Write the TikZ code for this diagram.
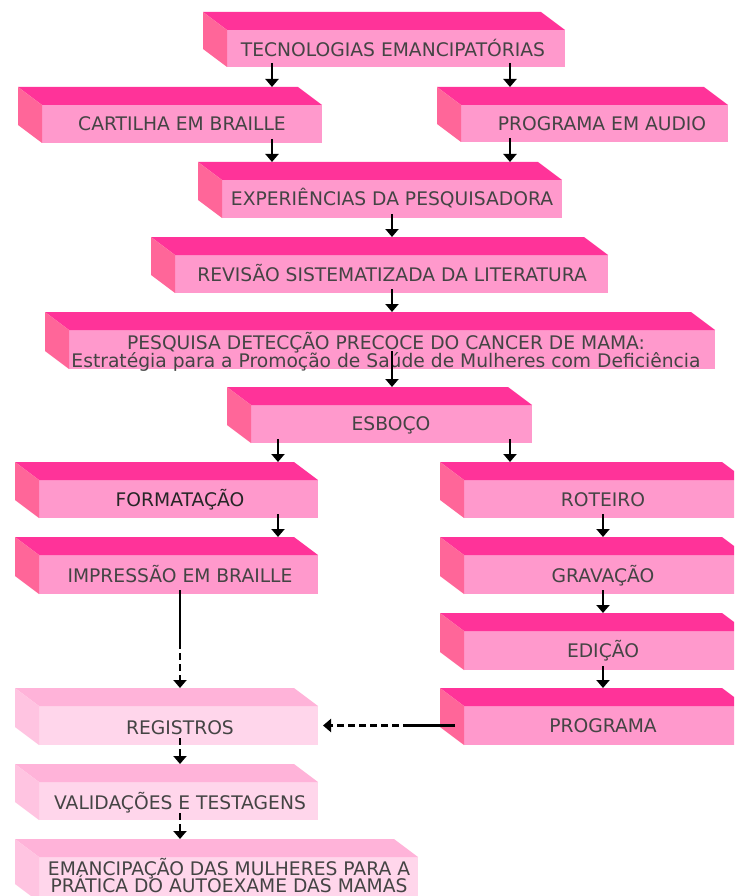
\documentclass[tikz,border=0pt]{standalone}
\usepackage{fontspec}
\setmainfont{DejaVu Sans}
\usetikzlibrary{calc,arrows.meta}
\definecolor{dtop}{HTML}{FF3399}
\definecolor{dside}{HTML}{FF6699}
\definecolor{dfront}{HTML}{FF99CC}
\definecolor{ltop}{HTML}{FFB3D9}
\definecolor{lside}{HTML}{FFC4E1}
\definecolor{lfront}{HTML}{FFD6EB}
\definecolor{txtc}{HTML}{444444}
\tikzset{
  face/.style={draw=none, inner sep=0pt, outer sep=0pt},
  lbl/.style={font=\fontsize{18.7}{18}\selectfont, text=txtc, inner sep=0pt, text height=13.6pt, text depth=0pt},
  lbltwo/.style={text=txtc, inner sep=0pt, align=center},
  arr/.style={line width=2.8pt, -{Triangle[width=13pt,length=8pt]}},
  solidline/.style={line width=2.8pt},
  dsh/.style={dash pattern=on 7pt off 4pt},
}
% #1 name, #2 front left x, #3 front top y, #4 front right x, #5 bottom y, #6 palette (d / l)
\newcommand\caixa[6]{%
  \node[face, fill=#6front, minimum width={#4-#2}, minimum height={#5-#3}] (#1) at ({(#2+#4)/2},{(#3+#5)/2}) {};
  \fill[#6top] (#1.north west) -- ++(-24,-18) -- ($(#1.north east)+(-24,-18)$) -- (#1.north east) -- cycle;
  \fill[#6side] (#1.north west) -- ++(-24,-18) -- ($(#1.south west)+(-24,-18)$) -- (#1.south west) -- cycle;
}
\newcommand\seta[4][]{\draw[arr,#1] ($(#2.south -| #4)+(0,-4)$) -- ($(#3.north -| #4)+(0,-18)$);}
\begin{document}
\begin{tikzpicture}[x=1pt,y=-1pt]
\useasboundingbox (0,0) rectangle (734,896);
\clip (0,0) rectangle (734,896);
\fill[white] (0,0) rectangle (734,896);

\caixa{tec}{227}{30}{565}{67}{d}
\caixa{cart}{42}{105}{322}{143}{d}
\caixa{audio}{461}{105}{728}{142}{d}
\caixa{exp}{222}{180}{562}{218}{d}
\caixa{rev}{175}{255}{608}{293}{d}
\caixa{pesq}{69}{330}{715}{369}{d}
\caixa{esb}{251}{405}{532}{443}{d}
\caixa{form}{39}{480}{318}{518}{d}
\caixa{rot}{464}{480}{746}{518}{d}
\caixa{imp}{39}{555}{318}{594}{d}
\caixa{grav}{464}{555}{746}{594}{d}
\caixa{edi}{464}{631}{746}{670}{d}
\caixa{prog}{464}{706}{746}{745}{d}
\caixa{reg}{39}{706}{318}{745}{l}
\caixa{val}{39}{782}{318}{820}{l}
\caixa{eman}{39}{857}{418}{902}{l}

\node[lbl] (tect) at (393,50) {TECNOLOGIAS EMANCIPATÓRIAS};
\node[lbl] (cartt) at (182,124) {CARTILHA EM BRAILLE};
\node[lbl] (audiot) at (602,124) {PROGRAMA EM AUDIO};
\node[lbl] (expt) at (392,199) {EXPERIÊNCIAS DA PESQUISADORA};
\node[lbl] (revt) at (392,275) {REVISÃO SISTEMATIZADA DA LITERATURA};
\node[lbltwo, font={\fontsize{18.7}{18}\selectfont\lineskiplimit=-50pt}] (pesqt) at (386,352) {PESQUISA DETECÇÃO PRECOCE DO CANCER DE MAMA:\\Estratégia para a Promoção de Saúde de Mulheres com Deficiência};
\node[lbl] (esbt) at (391,424) {ESBOÇO};
\node[lbl, text=black!85] (formt) at (180,500) {FORMATAÇÃO};
\node[lbl] (rott) at (603,500) {ROTEIRO};
\node[lbl] (impt) at (180,576) {IMPRESSÃO EM BRAILLE};
\node[lbl] (gravt) at (603,576) {GRAVAÇÃO};
\node[lbl] (edit) at (603,651) {EDIÇÃO};
\node[lbl] (progt) at (603,726) {PROGRAMA};
\node[lbl] (regt) at (180,728) {REGISTROS};
\node[lbl] (valt) at (180,803) {VALIDAÇÕES E TESTAGENS};
\node[lbltwo, font={\fontsize{18.7}{17}\selectfont\lineskiplimit=-50pt}] (emant) at (229,876) {EMANCIPAÇÃO DAS MULHERES PARA A\\PRÁTICA DO AUTOEXAME DAS MAMAS};

\coordinate (x180) at (180,0);
\coordinate (x272) at (272,0);
\coordinate (x278) at (278,0);
\coordinate (x392) at (392,0);
\coordinate (x510) at (510,0);
\coordinate (x603) at (603,0);
\coordinate (m1) at (180,642);
\coordinate (m2) at (410,0);

\seta{tec}{cart}{x272}
\seta{tec}{audio}{x510}
\seta{cart}{exp}{x272}
\seta{audio}{exp}{x510}
\seta{exp}{rev}{x392}
\seta{rev}{pesq}{x392}
\draw[arr] ($(pesq.south -| x392)+(0,-18)$) -- ($(esb.north -| x392)+(0,-18)$);
\seta{esb}{form}{x278}
\seta{esb}{rot}{x510}
\seta{form}{imp}{x278}
\seta{rot}{grav}{x603}
\seta{grav}{edi}{x603}
\seta{edi}{prog}{x603}

\draw[solidline] ($(imp.south -| x180)+(0,-4)$) -- (m1);
\draw[arr,dsh] (m1) -- ($(reg.north -| x180)+(0,-18)$);
\draw[solidline] ($(prog.west)+(-9,0)$) -- (m2 |- prog.west);
\draw[arr,dsh] (m2 |- prog.west) -- ($(reg.east |- prog.west)+(5,0)$);
\draw[arr,dsh] ($(reg.south -| x180)+(0,-7)$) -- ($(val.north -| x180)+(0,-18)$);
\draw[arr,dsh] ($(val.south -| x180)+(0,-7)$) -- ($(eman.north -| x180)+(0,-18)$);
\end{tikzpicture}
\end{document}
